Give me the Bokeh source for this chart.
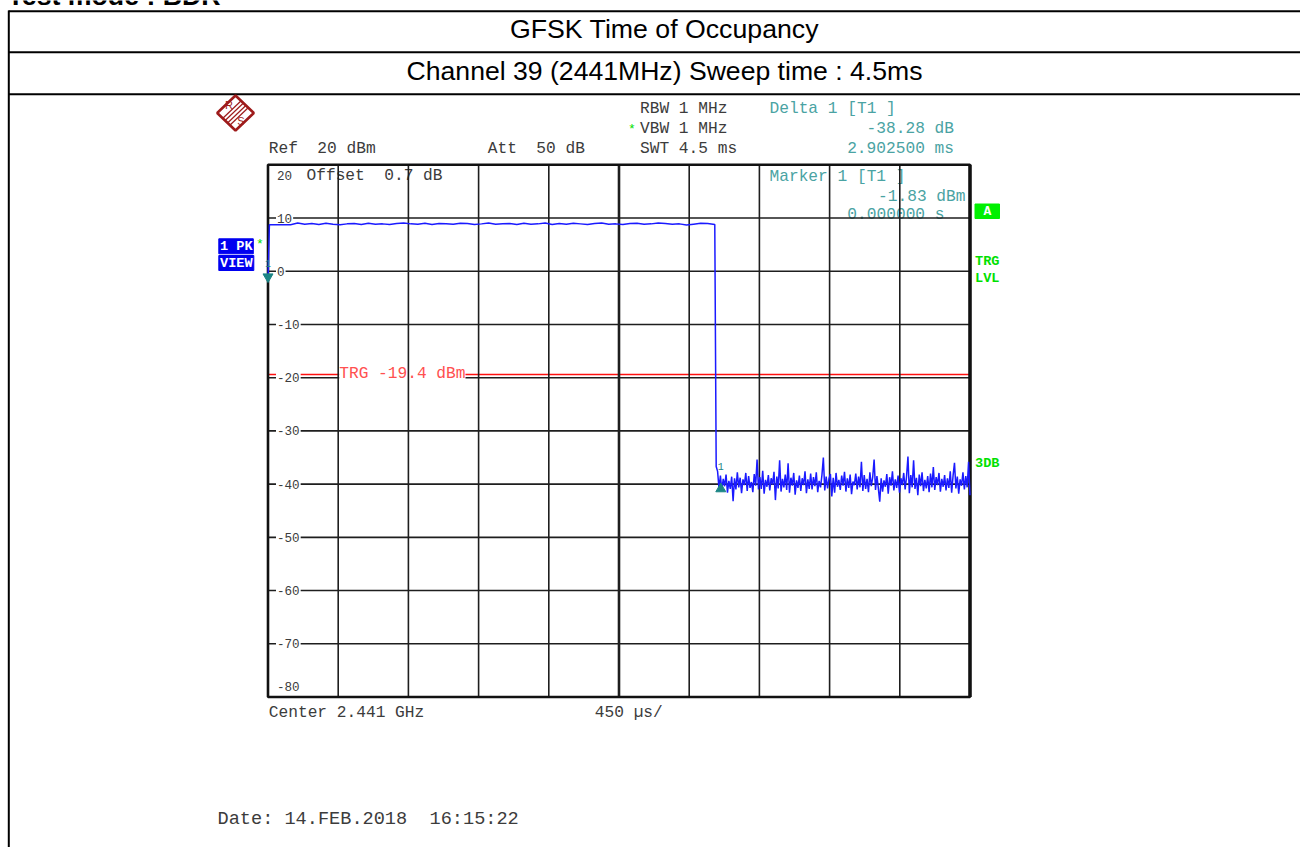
import numpy as np
from bokeh.plotting import figure
from bokeh.models import Range1d
from bokeh.core.properties import value
from bokeh.embed import file_html
from bokeh.resources import INLINE

# ---------------- data ----------------
level_ticks = [20, 10, 0, -10, -20, -30, -40, -50, -60, -70, -80]
time_divs_ms = [0.0, 0.45, 0.9, 1.35, 1.8, 2.25, 2.7, 3.15, 3.6, 4.05, 4.5]
sweep_ms = 4.5
ref_level = 20
bottom_level = -80
trigger_level = -19.4
marker1_t = 0.0
marker1_level = -1.83
delta1_t = 2.9025
delta1_db = -38.28

plateau_levels = [8.75, 8.75, 8.75, 8.75, 9.05, 8.85, 8.95, 8.8, 9.0, 8.85,
                  8.75, 8.9, 8.95, 8.8, 9.0, 8.85, 8.9, 8.8, 8.95, 9.05,
                  8.9, 8.85, 9.0, 8.8, 8.95, 8.9, 8.85, 9.0, 8.95, 8.8,
                  8.9, 9.05, 8.85, 8.9, 8.95, 8.8, 9.0, 8.85, 8.9, 9.05,
                  8.8, 8.95, 8.85, 9.0, 8.9, 8.8, 8.95, 9.05, 8.85, 8.9,
                  8.8, 8.95, 9.0, 8.85, 8.9, 9.05, 8.95, 8.85, 8.9, 8.7,
                  8.85, 9.0, 8.95, 8.8]
plateau_start_ms = 0.009
plateau_end_ms = 2.864
edge_ms = 2.873
edge_level = -36.7
noise_start_ms = 2.882
noise_levels = [-37.6, -40.8, -38.4, -41.2, -39.0, -40.4, -38.2, -41.6, -39.4, -40.9,
                -38.6, -43.2, -38.9, -41.0, -37.8, -40.6, -38.8, -41.7, -39.1, -40.2,
                -37.9, -41.3, -38.5, -40.7, -39.6, -41.5, -38.1, -40.3, -35.4, -41.0,
                -38.7, -40.9, -37.5, -41.8, -39.2, -40.5, -38.3, -41.2, -38.9, -40.1,
                -37.7, -43.0, -38.6, -40.8, -35.5, -41.4, -39.0, -40.6, -38.2, -41.1,
                -36.1, -41.6, -38.8, -40.3, -37.9, -42.0, -39.3, -40.7, -38.4, -41.3,
                -38.9, -40.2, -37.6, -41.7, -39.1, -40.9, -38.0, -41.0, -38.7, -40.4,
                -37.8, -41.5, -39.4, -40.6, -38.3, -35.0, -41.2, -38.6, -40.8, -39.0,
                -38.1, -42.3, -38.8, -41.6, -37.9, -40.5, -39.2, -41.1, -38.4, -40.3,
                -37.7, -41.4, -38.9, -40.7, -38.2, -41.9, -39.5, -40.2, -38.0, -41.0,
                -38.6, -40.6, -35.8, -41.3, -38.3, -40.9, -39.0, -41.5, -37.8, -40.4,
                -38.7, -35.4, -41.1, -38.5, -40.8, -43.3, -38.9, -41.4, -39.3, -40.5,
                -38.1, -41.8, -38.7, -40.3, -37.6, -41.2, -39.1, -40.7, -38.4, -41.6,
                -38.9, -40.2, -37.9, -41.0, -38.6, -34.8, -41.7, -38.3, -40.6, -35.5,
                -40.9, -38.8, -42.1, -38.2, -40.4, -37.8, -41.3, -39.2, -40.8, -38.5,
                -41.5, -38.0, -40.6, -36.8, -41.1, -38.7, -40.2, -37.9, -41.4, -39.0,
                -40.5, -38.3, -41.2, -38.9, -40.7, -37.6, -41.6, -38.4, -36.0, -40.8,
                -38.6, -41.8, -39.1, -40.3, -37.8, -41.0, -38.5, -40.6, -35.8, -42.1]

# ---------------- layout (reference pixel coordinates) ----------------
W, H = 1300, 847
GL, GR, GT, GB = 267.5, 969.5, 164.3, 696.5     # grid frame
ms_per_px = sweep_ms / (GR - GL)
db_per_px = (ref_level - bottom_level) / (GB - GT)
x0 = 0 - GL * ms_per_px
x1 = sweep_ms + (W - GR) * ms_per_px
y1 = ref_level + GT * db_per_px
y0 = bottom_level - (H - GB) * db_per_px

p = figure(width=W, height=H,
           x_range=Range1d(x0, x1), y_range=Range1d(y0, y1),
           output_backend="svg", toolbar_location=None,
           x_axis_type=None, y_axis_type=None, min_border=0)
p.outline_line_color = None
p.background_fill_color = "white"
p.border_fill_color = "white"
p.extra_x_ranges = {"px": Range1d(0, W)}
p.extra_y_ranges = {"px": Range1d(H, 0)}

MONO = "Liberation Mono"
SANS = "Liberation Sans"
GRAY = "#3c3c3c"
TEAL = "#4aa3a3"
GREEN = "#00e000"
NB = "\u00a0"


def txt(x, y, s, color=GRAY, size=16.2, font=MONO, align="left",
        baseline="middle", style="normal", **kw):
    p.text(x=[x], y=[y], text=[s], text_color=color, text_font=value(font),
           text_font_size=f"{size}px", text_align=align,
           text_baseline=baseline, text_font_style=style,
           x_range_name="px", y_range_name="px", **kw)


# ---- document table ----
txt(7, -5, "Test mode : BDR", color="black", size=26.7, font=SANS, style="bold")
p.segment(x0=[8, 8, 8], y0=[10.8, 51.7, 93.7], x1=[W] * 3,
          y1=[10.8, 51.7, 93.7], line_color="black", line_width=2,
          x_range_name="px", y_range_name="px")
p.segment(x0=[8.3], y0=[10], x1=[8.3], y1=[H],
          line_color="black", line_width=2, x_range_name="px", y_range_name="px")
txt(664, 28, "GFSK Time of Occupancy", color="black", size=26.7, font=SANS,
    align="center")
txt(664, 70, "Channel 39 (2441MHz) Sweep time : 4.5ms", color="black",
    size=26.6, font=SANS, align="center")

# ---- R&S logo ----
cx, cy, hw, hh = 235, 112.5, 18.3, 17.5
p.patch(x=[cx - hw, cx, cx + hw, cx], y=[cy, cy - hh, cy, cy + hh],
        fill_color=None, line_color="#9e1b1b", line_width=2.6,
        x_range_name="px", y_range_name="px")
ks = [-3.5, -1.2, 1.2, 3.5]
p.segment(x0=[cx - hw / 2 + k for k in ks], y0=[cy + hh / 2 + k for k in ks],
          x1=[cx + hw / 2 + k for k in ks], y1=[cy - hh / 2 + k for k in ks],
          line_color="#9e1b1b", line_width=1.2,
          x_range_name="px", y_range_name="px")
txt(228.5, 104.5, "R", color="#9e1b1b", size=11, font=SANS, align="center")
txt(240.5, 120.5, "S", color="#9e1b1b", size=11, font=SANS, align="center")

# ---- instrument header texts ----
txt(639.5, 108.3, "RBW 1 MHz")
txt(631.5, 128.8, "*", color=GREEN, size=13, align="center")
txt(639.5, 128.3, "VBW 1 MHz")
txt(639.5, 148.3, "SWT 4.5 ms")
txt(268.3, 148.3, f"Ref{NB}{NB}20 dBm")
txt(487.3, 148.3, f"Att{NB}{NB}50 dB")
txt(769, 108.3, "Delta 1 [T1 ]", color=TEAL)
txt(953.5, 128.3, f"{delta1_db:.2f} dB", color=TEAL, align="right")
txt(953.5, 148.3, f"{delta1_t:.6f} ms", color=TEAL, align="right")
txt(306, 175.5, f"Offset{NB}{NB}0.7 dB")
txt(769, 176, "Marker 1 [T1 ]", color=TEAL)
txt(965, 196, f"{marker1_level:.2f} dBm", color=TEAL, align="right")
txt(944, 214, f"{marker1_t:.6f} s", color=TEAL, align="right")

# ---- horizontal grid ----
p.segment(x0=[0] * len(level_ticks), y0=level_ticks,
          x1=[sweep_ms] * len(level_ticks), y1=level_ticks,
          line_color="#1e1e1e", line_width=1.6)

# ---- trigger line ----
p.line([0, sweep_ms], [trigger_level, trigger_level], line_color="#ff1010",
       line_width=1.6)
p.text(x=[time_divs_ms[1]], y=[trigger_level], text=[f"TRG {trigger_level} dBm"],
       x_offset=1, text_color="#ff5050", text_font=value(MONO),
       text_font_size="16.2px", text_baseline="middle",
       background_fill_color="white")

# ---- level tick labels ----
offs = [11 if v == ref_level else (-11 if v == bottom_level else 0) for v in level_ticks]
p.text(x=[0] * len(level_ticks), y=level_ticks, text=[str(v) for v in level_ticks],
       x_offset=8, y_offset=offs, text_color=GRAY, text_font=value(MONO),
       text_font_size="12.6px", text_baseline="middle",
       background_fill_color="white", padding=1)

# ---- vertical grid ----
p.segment(x0=time_divs_ms, y0=[bottom_level] * len(time_divs_ms),
          x1=time_divs_ms, y1=[ref_level] * len(time_divs_ms),
          line_color="#1e1e1e", line_width=1.6)
p.segment(x0=[sweep_ms / 2], y0=[bottom_level], x1=[sweep_ms / 2], y1=[ref_level],
          line_color="#1e1e1e", line_width=2.6)
p.quad(left=[0], right=[sweep_ms], bottom=[bottom_level], top=[ref_level],
       fill_color=None, line_color="#111111", line_width=2.6)
p.segment(x0=[sweep_ms], y0=[bottom_level], x1=[sweep_ms], y1=[ref_level],
          line_color="#111111", line_width=3.4)

# ---- trace ----
t_plateau = np.linspace(plateau_start_ms, plateau_end_ms, len(plateau_levels))
t_noise = np.linspace(noise_start_ms, sweep_ms, len(noise_levels))
t_all = np.concatenate([[marker1_t], t_plateau, [edge_ms], t_noise])
lv_all = np.concatenate([[marker1_level], plateau_levels, [edge_level], noise_levels])
p.line(t_all, lv_all, line_color="#1a1aff", line_width=1.5)

# ---- markers ----
MK = "#1b8585"
delta_level = marker1_level + delta1_db
p.scatter([marker1_t], [marker1_level + 4.2 * db_per_px], marker="inverted_triangle",
          size=10, fill_color=MK, line_color=MK)
p.scatter([delta1_t], [delta_level - 4.2 * db_per_px], marker="triangle",
          size=10, fill_color=MK, line_color=MK)
p.text(x=[marker1_t, delta1_t], y=[marker1_level, delta_level], text=["1", "1"],
       x_offset=[0, 0], y_offset=[-17, -18], text_color=MK,
       text_font=value(MONO), text_font_size="10px", text_align="center",
       text_baseline="middle")

# ---- side indicators ----
p.quad(left=[218.3, 218.3], right=[252.8, 253.3], top=[238.3, 255],
       bottom=[253.3, 270], fill_color="#0000f0", line_color="#0000f0",
       x_range_name="px", y_range_name="px")
txt(219.5, 246, "1 PK", color="white", size=13.6, style="bold")
txt(219.5, 262.8, "VIEW", color="white", size=13.6, style="bold")
txt(259.5, 244, "*", color=GREEN, size=13, align="center")
p.quad(left=[974.5], right=[999], top=[203.5], bottom=[218],
       fill_color="#00f000", line_color="#00f000",
       x_range_name="px", y_range_name="px")
txt(986.8, 211, "A", color="white", size=13, style="bold", align="center")
txt(974.5, 261, "TRG", color=GREEN, size=13.6, style="bold")
txt(974.5, 277.5, "LVL", color=GREEN, size=13.6, style="bold")
txt(974.5, 463, "3DB", color=GREEN, size=13.6, style="bold")

# ---- footer texts ----
txt(268.3, 712, "Center 2.441 GHz")
txt(594.3, 712, "450 \u00b5s/")
txt(217, 818.5, f"Date: 14.FEB.2018{NB}{NB}16:15:22", size=18.6)

open("out.html", "w").write(file_html(p, INLINE))
